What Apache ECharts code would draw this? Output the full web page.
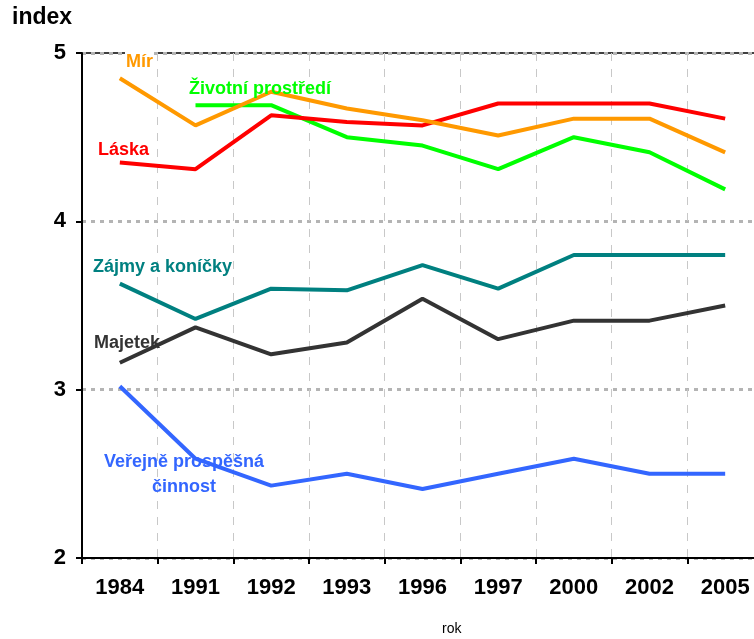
<!DOCTYPE html>
<html>
<head>
<meta charset="utf-8">
<style>
  html, body { margin: 0; padding: 0; background: #fff; }
  #chart { width: 754px; height: 639px; }
</style>
<script src="https://cdn.jsdelivr.net/npm/echarts@6/dist/echarts.min.js"></script>
</head>
<body>
<div id="chart"></div>
<script>
  // roky na ose x
  var years = ['1984', '1991', '1992', '1993', '1996', '1997', '2000', '2002', '2005'];
  var yTicks = [2, 3, 4, 5];

  var mir = [4.85, 4.57, 4.77, 4.67, 4.60, 4.51, 4.61, 4.61, 4.41];
  var zivotni = [null, 4.69, 4.69, 4.50, 4.45, 4.31, 4.50, 4.41, 4.19];
  var laska = [4.35, 4.31, 4.63, 4.59, 4.57, 4.70, 4.70, 4.70, 4.61];
  var zajmy = [3.63, 3.42, 3.60, 3.59, 3.74, 3.60, 3.80, 3.80, 3.80];
  var majetek = [3.16, 3.37, 3.21, 3.28, 3.54, 3.30, 3.41, 3.41, 3.50];
  var verejne = [3.02, 2.59, 2.43, 2.50, 2.41, 2.50, 2.59, 2.50, 2.50];

  var font = 'Liberation Sans, Arial, sans-serif';

  function line(name, data, color) {
    return {
      name: name,
      type: 'line',
      data: data,
      symbol: 'none',
      lineStyle: { color: color, width: 4 },
      itemStyle: { color: color }
    };
  }

  function label(text, x, y, color, align, bg) {
    var style = {
      text: text,
      x: x,
      y: y,
      fill: color,
      font: 'bold 18px ' + font,
      textAlign: align || 'left',
      textVerticalAlign: 'middle'
    };
    if (bg) {
      style.backgroundColor = '#fff';
      style.padding = [4, 1, 2, 1];
    }
    return { type: 'text', z: 100, style: style };
  }

  var chart = echarts.init(document.getElementById('chart'));
  chart.setOption({
    animation: false,
    backgroundColor: '#fff',
    grid: {
      left: 82,
      width: 681,
      top: 53,
      bottom: 81,
      outerBoundsMode: 'none',
      containLabel: false,
      show: true,
      borderColor: '#000',
      borderWidth: 1.5
    },
    xAxis: {
      type: 'category',
      data: years,
      boundaryGap: true,
      axisLine: { lineStyle: { color: '#000', width: 2 } },
      axisTick: { show: true, interval: 0, length: 6, lineStyle: { color: '#000', width: 2 } },
      axisLabel: { interval: 0, margin: 19, color: '#000', fontWeight: 'bold', fontSize: 22, fontFamily: font },
      splitLine: { show: true, interval: 0, lineStyle: { color: '#c8c8c8', width: 1, type: [8, 8] } }
    },
    yAxis: {
      type: 'value',
      min: yTicks[0],
      max: yTicks[yTicks.length - 1],
      interval: 1,
      axisLine: { show: true, lineStyle: { color: '#000', width: 2 } },
      axisTick: { show: true, length: 6, lineStyle: { color: '#000', width: 2 } },
      axisLabel: { margin: 16, color: '#000', fontWeight: 'bold', fontSize: 22, fontFamily: font },
      splitLine: { show: true, lineStyle: { color: '#b4b4b4', width: 3, type: [4, 5] } }
    },
    series: [
      line('Majetek', majetek, '#333333'),
      line('Zájmy a koníčky', zajmy, '#008080'),
      line('Veřejně prospěšná činnost', verejne, '#3366FF'),
      line('Životní prostředí', zivotni, '#00FF00'),
      line('Láska', laska, '#FF0000'),
      line('Mír', mir, '#FF9900')
    ],
    graphic: [
      { type: 'text', left: 12, top: 6, style: { text: 'index', fill: '#000', font: 'bold 23px ' + font } },
      { type: 'text', left: 442, top: 622, style: { text: 'rok', fill: '#000', font: '14px ' + font } },
      label('Mír', 125, 62, '#FF9900', 'left', true),
      label('Životní prostředí', 189, 89, '#00FF00'),
      label('Láska', 98, 150, '#FF0000'),
      label('Zájmy a koníčky', 93, 267, '#008080'),
      label('Majetek', 94, 343, '#333333'),
      label('Veřejně prospěšná', 184, 462, '#3366FF', 'center'),
      label('činnost', 184, 487, '#3366FF', 'center')
    ]
  });
</script>
</body>
</html>
